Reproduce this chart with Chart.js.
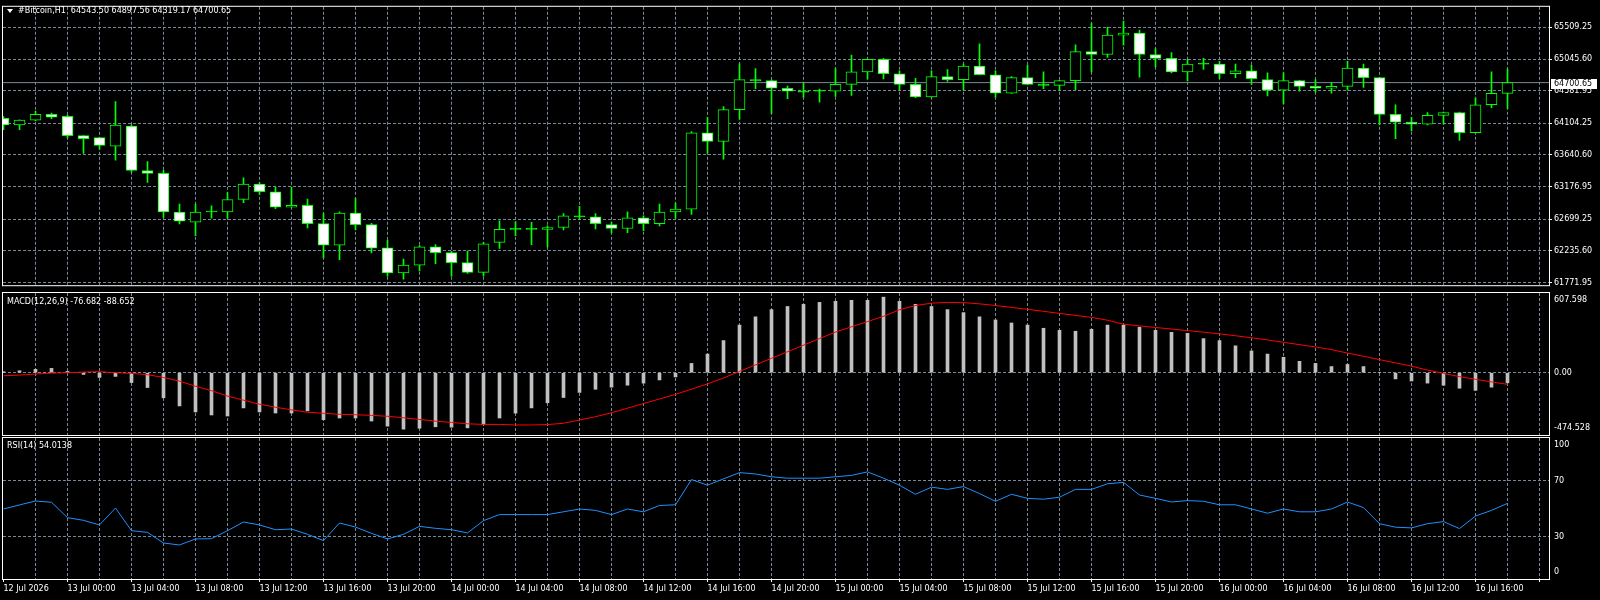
<!DOCTYPE html>
<html>
<head>
<meta charset="utf-8">
<title>#Bitcoin,H1</title>
<script src="https://cdn.jsdelivr.net/npm/chart.js@4.4.1/dist/chart.umd.min.js"></script>
<style>
  html, body { margin: 0; padding: 0; background: #000; }
  #terminal { position: relative; width: 1600px; height: 600px; overflow: hidden; background: #000; font-family: "DejaVu Sans", sans-serif; }
  #terminal canvas { position: absolute; left: 0; }
  .caption { position: absolute; color: #fff; font-size: 8px; line-height: 10px; white-space: pre; }
  .arrow { position: absolute; left: 7px; top: 9px; width: 0; height: 0; border-left: 3px solid transparent; border-right: 3px solid transparent; border-top: 4px solid #fff; }
</style>
</head>
<body>
<div id="terminal">
  <canvas id="priceChart" width="1600" height="292" style="top:0"></canvas>
  <canvas id="macdChart" width="1600" height="145" style="top:292px"></canvas>
  <canvas id="rsiChart" width="1600" height="163" style="top:437px"></canvas>
  <div class="arrow"></div>
  <div class="caption" id="priceCaption" style="left:18px;top:6px"></div>
  <div class="caption" id="macdCaption" style="left:7px;top:297px"></div>
  <div class="caption" id="rsiCaption" style="left:7px;top:441px"></div>
</div>
<script>
// hourly bars, 12 Jul 20:00 .. 16 Jul 18:00
const timeLabels = ['12 Jul 2026', '13 Jul 00:00', '13 Jul 04:00', '13 Jul 08:00', '13 Jul 12:00', '13 Jul 16:00',
  '13 Jul 20:00', '14 Jul 00:00', '14 Jul 04:00', '14 Jul 08:00', '14 Jul 12:00', '14 Jul 16:00', '14 Jul 20:00',
  '15 Jul 00:00', '15 Jul 04:00', '15 Jul 08:00', '15 Jul 12:00', '15 Jul 16:00', '15 Jul 20:00', '16 Jul 00:00',
  '16 Jul 04:00', '16 Jul 08:00', '16 Jul 12:00', '16 Jul 16:00'];

const open = [64178.6, 64079.5, 64150.3, 64235.2, 64206.9, 63923.8, 63895.5, 63768.1, 64065.4, 63414.2,
  63371.7, 62805.5, 62658.2, 62805.5, 62805.5, 62989.5, 63216.0, 63102.7, 62876.2, 62904.6,
  62635.6, 62318.5, 62791.3, 62621.4, 62281.7, 61913.6, 62026.9, 62295.9, 62210.9, 62063.7,
  61922.1, 62361.0, 62550.7, 62550.7, 62550.7, 62579.0, 62748.8, 62734.7, 62621.4, 62564.8,
  62720.5, 62635.6, 62805.5, 62847.9, 63966.3, 63838.9, 64306.0, 64744.8, 64730.7, 64617.4,
  64575.0, 64575.0, 64575.0, 64674.1, 64858.1, 65042.1, 64829.8, 64674.1, 64490.0, 64787.3,
  64744.8, 64943.0, 64815.6, 64546.7, 64773.1, 64678.3, 64659.9, 64730.7, 65155.4, 65112.9,
  65396.0, 65424.3, 65112.9, 65056.3, 64858.1, 64971.3, 64971.3, 64829.8, 64872.2, 64744.8,
  64589.1, 64730.7, 64645.7, 64617.4, 64645.7, 64914.7, 64773.1, 64235.2, 64122.0, 64093.7,
  64221.1, 64263.5, 63966.3, 64376.8, 64543.50];
const high = [64205.0, 64155.0, 64281.9, 64253.6, 64225.3, 63926.0, 63900.0, 64423.5, 64083.8, 63545.8,
  63418.4, 62923.0, 62918.7, 62894.7, 63088.6, 63305.2, 63234.4, 63167.9, 63167.9, 62993.7,
  62781.4, 62809.7, 63003.7, 62639.8, 62394.9, 62116.1, 62314.3, 62328.4, 62229.3, 62233.6,
  62361.0, 62678.1, 62663.9, 62654.0, 62601.6, 62781.4, 62890.4, 62781.4, 62658.2, 62809.7,
  62748.8, 62923.0, 62932.9, 63984.7, 64187.1, 64348.5, 64975.6, 64904.8, 64742.0, 64650.0,
  64696.7, 64607.5, 64904.8, 65103.0, 65046.4, 65056.3, 64872.2, 64763.2, 64872.2, 64890.6,
  64971.3, 65268.6, 64872.2, 64787.3, 64957.2, 64858.1, 64735.0, 65254.5, 65565.9, 65509.3,
  65602.7, 65471.0, 65197.8, 65141.2, 65042.1, 65056.3, 65013.8, 64971.3, 64957.2, 64843.9,
  64843.9, 64735.0, 64744.8, 64702.4, 65013.8, 64971.3, 64777.0, 64376.8, 64192.8, 64263.5,
  64268.0, 64268.0, 64475.9, 64858.1, 64897.56];
const low = [64013.0, 64013.0, 64145.0, 64172.9, 63889.8, 63663.3, 63725.6, 63564.2, 63390.1, 63238.6,
  62724.8, 62629.9, 62460.1, 62714.9, 62714.9, 62941.4, 63064.5, 62856.4, 62876.0, 62573.3,
  62134.5, 62106.2, 62545.0, 62205.3, 61865.5, 61823.0, 61942.0, 62049.5, 61865.5, 61908.0,
  61865.5, 62271.8, 62460.1, 62328.4, 62295.9, 62545.0, 62700.7, 62559.1, 62502.5, 62502.5,
  62530.8, 62601.6, 62714.9, 62771.5, 63669.0, 63578.4, 64164.4, 64611.8, 64249.4, 64466.0,
  64484.4, 64413.6, 64498.5, 64512.7, 64753.3, 64753.3, 64593.4, 64480.1, 64487.0, 64716.5,
  64589.1, 64813.0, 64484.4, 64544.0, 64671.0, 64611.8, 64589.1, 64597.6, 64858.1, 65070.4,
  65248.8, 64781.6, 64928.9, 64843.9, 64725.0, 64894.9, 64759.0, 64773.1, 64674.1, 64504.2,
  64390.9, 64575.0, 64560.8, 64546.7, 64589.1, 64631.6, 64079.5, 63881.3, 63994.6, 64079.5,
  64093.7, 63853.0, 63963.0, 64334.3, 64319.17];
const close = [64079.5, 64150.3, 64235.2, 64192.8, 63923.8, 63881.3, 63782.2, 64079.5, 63414.2, 63371.7,
  62805.5, 62672.4, 62805.5, 62805.5, 62989.5, 63216.0, 63102.7, 62876.2, 62904.6, 62635.6,
  62318.5, 62791.3, 62621.4, 62276.0, 61913.6, 62026.9, 62295.9, 62210.9, 62063.7, 61922.1,
  62338.3, 62550.7, 62550.7, 62550.7, 62579.0, 62748.8, 62734.7, 62635.6, 62564.8, 62720.5,
  62635.6, 62805.5, 62847.9, 63966.3, 63838.9, 64306.0, 64744.8, 64725.0, 64617.4, 64575.0,
  64560.8, 64575.0, 64674.1, 64858.1, 65042.1, 64829.8, 64674.1, 64490.0, 64787.3, 64744.8,
  64943.0, 64815.6, 64546.7, 64773.1, 64674.1, 64659.9, 64730.7, 65155.4, 65112.9, 65396.0,
  65424.3, 65112.9, 65056.3, 64858.1, 64971.3, 64971.3, 64829.8, 64872.2, 64759.0, 64589.1,
  64730.7, 64645.7, 64617.4, 64645.7, 64914.7, 64773.1, 64235.2, 64122.0, 64093.7, 64221.1,
  64263.5, 63966.3, 64376.8, 64543.5, 64700.65];

const macdMain = [8, 15, 26, 33, 10, -13, -36, -28, -75, -113,
  -191, -253, -299, -322, -330, -268, -299, -307, -307, -291,
  -358, -345, -345, -368, -407, -430, -423, -412, -415, -420,
  -394, -345, -308, -268, -229, -189, -150, -126, -110, -95,
  -79, -55, -32, 71, 142, 245, 363, 426, 481, 505,
  521, 536, 544, 552, 552, 576, 544, 521, 505, 481,
  458, 426, 402, 379, 363, 339, 323, 316, 331, 363,
  363, 347, 323, 308, 300, 260, 245, 205, 166, 142,
  118, 87, 71, 47, 63, 47, 0, -47, -63, -79,
  -95, -118, -134, -110, -76.682];
const macdSignal = [-23, -18, -10, -3, 0, 5, 8, 0, -5, -15,
  -36, -64, -103, -137, -178, -209, -240, -263, -283, -301,
  -309, -317, -320, -325, -332, -343, -356, -369, -379, -389,
  -394, -394, -398, -398, -395, -385, -360, -335, -305, -270,
  -235, -200, -165, -125, -85, -40, 10, 60, 110, 160,
  210, 260, 310, 350, 390, 430, 480, 512, 530, 536,
  534, 525, 512, 498, 483, 468, 452, 437, 422, 400,
  370, 357, 345, 333, 321, 309, 296, 282, 266, 250,
  232, 214, 196, 176, 150, 125, 100, 75, 50, 20,
  -5, -30, -50, -70, -88.652];
const rsi = [50.0, 52.9, 55.7, 54.8, 43.8, 41.9, 38.6, 50.7, 34.5, 33.3,
  25.7, 24.3, 28.6, 28.8, 34.5, 40.7, 38.6, 35.2, 35.7, 31.9,
  27.4, 40.0, 37.1, 32.6, 28.6, 31.9, 37.6, 36.2, 35.2, 32.9,
  41.7, 46.0, 46, 46, 46, 48, 50, 49, 46, 50,
  48, 52.5, 53, 71, 67, 71.5, 76, 75, 73, 72,
  72, 72, 73, 74, 76.5, 72, 67, 60.5, 65.6, 64,
  66, 61, 55.5, 60.5, 57.6, 57, 58.4, 64, 64, 68,
  69, 60, 57.6, 55, 56, 55.5, 53, 53, 50, 47,
  50, 48, 48, 50, 55, 51, 39.5, 37, 36.5, 39.5,
  41, 36, 45, 49, 54.0138];

const priceTicks = [61771.95, 62235.60, 62699.25, 63176.95, 63640.60, 64104.25, 64581.95, 65045.60, 65509.25];
const macdTicks = [607.598, 0, -474.528];
const macdTickLabels = ['607.598', '0.00', '-474.528'];
const rsiTicks = [100, 70, 30, 0];

// axis ranges, as MT4 lays out the panels
const PRICE_MIN = 61733.9, PRICE_MAX = 65810.8;
const MACD_MIN = -474.528, MACD_MAX = 607.598;
const X_MIN = -1 / 32, X_MAX = 96.59375;

const GREEN = '#00ff00';
const GRID = '#778899';
const last = close.length - 1;

Chart.defaults.font.family = '"DejaVu Sans", sans-serif';
Chart.defaults.font.size = 8;
Chart.defaults.color = '#ffffff';
Chart.defaults.animation = false;
Chart.defaults.plugins.legend.display = false;
Chart.defaults.plugins.tooltip.enabled = false;

document.getElementById('priceCaption').textContent =
  '#Bitcoin,H1  ' + [open[last], high[last], low[last], close[last]].map(v => v.toFixed(2)).join(' ');
document.getElementById('macdCaption').textContent =
  'MACD(12,26,9) ' + macdMain[last].toFixed(3) + ' ' + macdSignal[last].toFixed(3);
document.getElementById('rsiCaption').textContent = 'RSI(14) ' + rsi[last].toFixed(4);

const gridSteps = [];
for (let v = 0; v <= 96; v += 2) gridSteps.push(v);

const frame = {
  id: 'frame',
  afterDraw(chart) {
    const { ctx, chartArea: a } = chart;
    ctx.save();
    ctx.strokeStyle = '#ffffff';
    ctx.lineWidth = 1;
    ctx.strokeRect(a.left - 0.5, a.top - 0.5, a.right - a.left + 1, a.bottom - a.top + 1);
    ctx.restore();
  }
};

// right-hand labels that MT4 keeps inside the panel
const sideLabels = {
  id: 'sideLabels',
  afterDraw(chart, args, opts) {
    const { ctx, chartArea: a } = chart;
    const y = chart.scales.y;
    ctx.save();
    ctx.font = '8px "DejaVu Sans"';
    ctx.fillStyle = '#ffffff';
    ctx.textBaseline = 'middle';
    opts.values.forEach((v, i) => {
      const py = Math.max(a.top + 7, Math.min(a.bottom - 7, y.getPixelForValue(v)));
      ctx.fillText(opts.labels[i], a.right + 5, py);
    });
    ctx.restore();
  }
};

const priceTag = {
  id: 'priceTag',
  afterDraw(chart) {
    const { ctx, chartArea: a } = chart;
    const py = Math.round(chart.scales.y.getPixelForValue(close[last]));
    ctx.save();
    ctx.fillStyle = '#ffffff';
    ctx.fillRect(a.right + 2, py - 4, 46, 10);
    ctx.fillStyle = '#000000';
    ctx.font = '8px "DejaVu Sans"';
    ctx.textBaseline = 'middle';
    ctx.fillText(close[last].toFixed(2), a.right + 5, py + 1);
    ctx.restore();
  }
};

function timeAxis(showLabels) {
  return {
    type: 'linear',
    min: X_MIN,
    max: X_MAX,
    offset: false,
    afterBuildTicks: s => { s.ticks = gridSteps.map(v => ({ value: v })); },
    afterFit: s => { s.height = showLabels ? 21 : 0; },
    grid: {
      offset: false,
      color: c => (c.tick && c.tick.value === 0) ? 'rgba(0,0,0,0)' : GRID,
      drawTicks: showLabels,
      tickLength: 3,
      tickColor: c => (c.tick && c.tick.value % 4 === 0) ? '#ffffff' : 'rgba(0,0,0,0)',
      tickBorderDash: []
    },
    border: { display: false, dash: [3, 2] },
    ticks: {
      display: showLabels,
      autoSkip: false,
      maxRotation: 0,
      minRotation: 0,
      align: 'start',
      padding: 2,
      color: '#ffffff',
      callback: v => (v % 4 === 0 && timeLabels[v / 4]) ? timeLabels[v / 4] : ''
    }
  };
}

function sideAxis(min, max, gridValues) {
  return {
    position: 'right',
    min: min,
    max: max,
    beginAtZero: false,
    afterBuildTicks: s => { s.ticks = gridValues.map(v => ({ value: v })); },
    afterFit: s => { s.width = 51; },
    grid: { color: GRID, drawTicks: false },
    border: { display: false, dash: [3, 2] },
    ticks: { display: false }
  };
}

const idx = close.map((_, i) => i);

new Chart(document.getElementById('priceChart'), {
  type: 'bar',
  data: {
    datasets: [{
      label: 'body',
      data: idx.map(i => ({ x: i, y: [open[i], close[i]] })),
      backgroundColor: c => {
        const i = c.dataIndex;
        if (Math.abs(close[i] - open[i]) < 20) return GREEN;
        return close[i] >= open[i] ? '#000000' : '#ffffff';
      },
      borderColor: GREEN,
      borderWidth: 1,
      borderSkipped: false,
      barThickness: 11,
      minBarLength: 1,
      grouped: false,
      order: 0
    }, {
      label: 'wick',
      data: idx.map(i => ({ x: i, y: [low[i], high[i]] })),
      backgroundColor: GREEN,
      borderWidth: 0,
      barThickness: 1,
      grouped: false,
      order: 1
    }, {
      type: 'line',
      label: 'bid',
      data: [{ x: X_MIN, y: close[last] }, { x: X_MAX, y: close[last] }],
      borderColor: GRID,
      borderWidth: 1,
      pointRadius: 0,
      order: 2
    }]
  },
  options: {
    responsive: false,
    devicePixelRatio: 1,
    layout: { padding: { left: 3, top: 2, right: 0, bottom: 2 } },
    scales: {
      x: timeAxis(false),
      y: {
        position: 'right',
        min: PRICE_MIN,
        max: PRICE_MAX,
        beginAtZero: false,
        afterBuildTicks: s => { s.ticks = priceTicks.map(v => ({ value: v })); },
        afterFit: s => { s.width = 51; },
        grid: { color: GRID, tickLength: 3, tickColor: '#ffffff', tickBorderDash: [] },
        border: { display: false, dash: [3, 2] },
        ticks: { padding: 2, color: '#ffffff', callback: v => v.toFixed(2) }
      }
    }
  },
  plugins: [frame, priceTag]
});

new Chart(document.getElementById('macdChart'), {
  type: 'bar',
  data: {
    datasets: [{
      type: 'line',
      label: 'Signal',
      data: idx.map(i => ({ x: i, y: macdSignal[i] })),
      borderColor: '#ff0000',
      borderWidth: 1,
      pointRadius: 0,
      order: 0
    }, {
      label: 'MACD',
      data: idx.map(i => ({ x: i, y: macdMain[i] })),
      backgroundColor: '#c0c0c0',
      barThickness: 3,
      grouped: false,
      order: 1
    }]
  },
  options: {
    responsive: false,
    devicePixelRatio: 1,
    layout: { padding: { left: 3, top: 1, right: 0, bottom: 2 } },
    scales: { x: timeAxis(false), y: sideAxis(MACD_MIN, MACD_MAX, [0]) },
    plugins: { sideLabels: { values: macdTicks, labels: macdTickLabels } }
  },
  plugins: [frame, sideLabels]
});

new Chart(document.getElementById('rsiChart'), {
  type: 'line',
  data: {
    datasets: [{
      label: 'RSI',
      data: idx.map(i => ({ x: i, y: rsi[i] })),
      borderColor: '#1e90ff',
      borderWidth: 1,
      pointRadius: 0
    }]
  },
  options: {
    responsive: false,
    devicePixelRatio: 1,
    layout: { padding: { left: 3, top: 1, right: 0, bottom: 0 } },
    scales: { x: timeAxis(true), y: sideAxis(0, 100.7, [70, 30]) },
    plugins: { sideLabels: { values: rsiTicks, labels: rsiTicks.map(String) } }
  },
  plugins: [frame, sideLabels]
});
</script>
</body>
</html>
